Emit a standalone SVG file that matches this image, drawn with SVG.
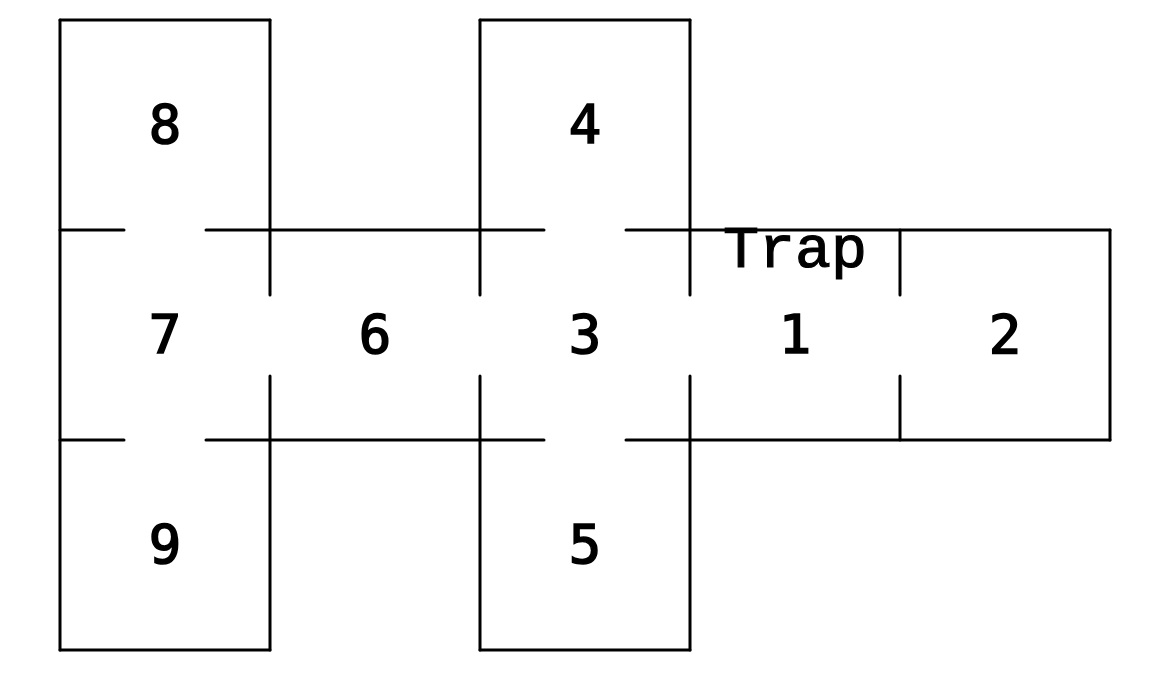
<svg xmlns="http://www.w3.org/2000/svg" width="1163" height="677" viewBox="0 0 1163 677">
<style>
.w{stroke:#000;stroke-width:3;stroke-linecap:round;fill:none}
.n{font-family:"DejaVu Sans Mono",monospace;font-size:54px;fill:#000;stroke:#000;stroke-width:1.6;text-anchor:middle}
.t{font-family:"Liberation Mono","Courier New",monospace;font-size:60px;fill:#000;stroke:#000;stroke-width:1.2;text-anchor:middle}
</style>
<rect width="1163" height="677" fill="#fff"/>
<g id="walls" class="w">
<path d="M60,20H270M480,20H690M60,650H270M480,650H690"/>
<path d="M60,20V650"/>
<path d="M270,20V295M270,376V650M480,20V295M480,376V650M690,20V295M690,376V650"/>
<path d="M900,230V295M900,376V440M1110,230V440"/>
<path d="M60,230H124M206,230H544M626,230H1110"/>
<path d="M60,440H124M206,440H544M626,440H1110"/>
</g>
<g id="labels">
<text class="n" x="165" y="143">8</text>
<text class="n" x="585" y="143">4</text>
<text class="n" x="165" y="353">7</text>
<text class="n" x="375" y="353">6</text>
<text class="n" x="585" y="353">3</text>
<text class="n" x="795" y="353">1</text>
<text class="n" x="1005" y="353">2</text>
<text class="n" x="165" y="563">9</text>
<text class="n" x="585" y="563">5</text>
<text class="t" x="795" y="267">Trap</text>
</g>
</svg>
